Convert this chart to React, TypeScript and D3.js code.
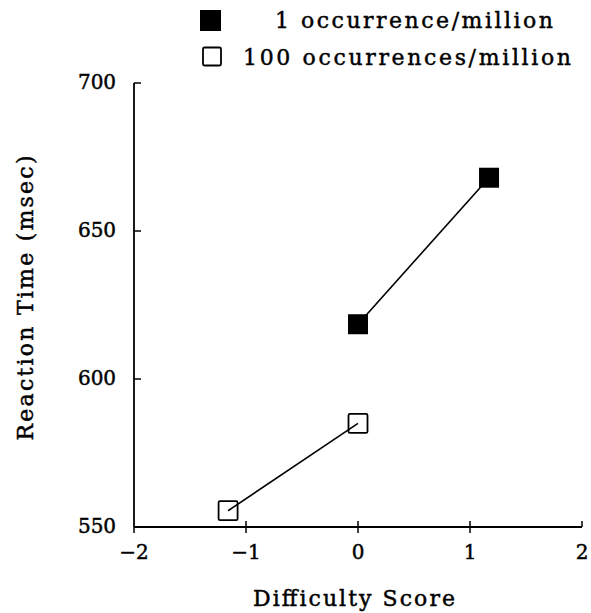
import React from "react";
import * as d3 from "d3";

const seriesNames = ["1 occurrence/million", "100 occurrences/million"];
const lowFreqX = [0, 1.17];
const lowFreqY = [618.5, 668];
const highFreqX = [-1.16, 0];
const highFreqY = [555.5, 585];
const xTicks = [-2, -1, 0, 1, 2];
const yTicks = [550, 600, 650, 700];

const W = 591;
const H = 613;
const FONT = "'DejaVu Serif', serif";

export default function App() {
  const x = d3.scaleLinear().domain([-2, 2]).range([134, 582]);
  const y = d3.scaleLinear().domain([550, 700]).range([527, 83]);
  const line = d3
    .line<[number, number]>()
    .x((d) => x(d[0]))
    .y((d) => y(d[1]));
  const low: [number, number][] = lowFreqX.map((v, i) => [v, lowFreqY[i]]);
  const high: [number, number][] = highFreqX.map((v, i) => [v, highFreqY[i]]);
  const fmt = (v: number) => (v < 0 ? "\u2212" + Math.abs(v) : String(v));
  const S = 20;
  const bold = { stroke: "#000", strokeWidth: 0.45 };
  return (
    <svg
      width={W}
      height={H}
      style={{ position: "absolute", left: 0, top: 0, background: "#fff" }}
      fontFamily={FONT}
    >
      {/* legend */}
      <rect x={200} y={10} width={21} height={21} fill="#000" />
      <text x={275} y={28} fontSize={22} textLength={278} lengthAdjust="spacing" {...bold}>
        {seriesNames[0]}
      </text>
      <rect x={203} y={47.5} width={18} height={18} fill="none" stroke="#000" strokeWidth={1.8} rx={1.5} />
      <text x={243} y={65} fontSize={22} textLength={328} lengthAdjust="spacing" {...bold}>
        {seriesNames[1]}
      </text>

      {/* axes */}
      <line x1={x(-2)} x2={x(2)} y1={y(550)} y2={y(550)} stroke="#000" strokeWidth={1.8} />
      <line x1={x(-2)} x2={x(-2)} y1={y(550)} y2={y(700)} stroke="#000" strokeWidth={1.8} />
      {xTicks.map((t) => (
        <g key={"x" + t}>
          <line
            x1={x(t)}
            x2={x(t)}
            y1={t === -2 ? y(550) : y(550) - 6}
            y2={t === 2 ? y(550) : y(550) + 6}
            stroke="#000"
            strokeWidth={1.5}
          />
          <text x={x(t)} y={559} fontSize={20} textAnchor="middle" {...bold}>
            {fmt(t)}
          </text>
        </g>
      ))}
      {yTicks.map((t) => (
        <g key={"y" + t}>
          <line x1={x(-2)} x2={x(-2) + 7} y1={y(t)} y2={y(t)} stroke="#000" strokeWidth={1.5} />
          <text x={116} y={y(t) + 6} fontSize={20} textAnchor="end" textLength={38} lengthAdjust="spacing" {...bold}>
            {t}
          </text>
        </g>
      ))}

      {/* axis labels */}
      <text x={354} y={606} fontSize={22} textAnchor="middle" textLength={202} lengthAdjust="spacing" {...bold}>
        Difficulty Score
      </text>
      <text
        transform={`translate(33,298) rotate(-90)`}
        fontSize={22}
        textAnchor="middle"
        textLength={285}
        lengthAdjust="spacing"
        {...bold}
      >
        Reaction Time (msec)
      </text>

      {/* series */}
      <path d={line(low) || ""} fill="none" stroke="#000" strokeWidth={1.6} />
      {low.map((d, i) => (
        <rect key={"l" + i} x={x(d[0]) - S / 2} y={y(d[1]) - S / 2} width={S} height={S} fill="#000" />
      ))}
      <path d={line(high) || ""} fill="none" stroke="#000" strokeWidth={1.6} />
      {high.map((d, i) => (
        <rect
          key={"h" + i}
          x={x(d[0]) - 9.5}
          y={y(d[1]) - 9.5}
          width={19}
          height={19}
          fill="none"
          stroke="#000"
          strokeWidth={1.8}
          rx={1.5}
        />
      ))}
    </svg>
  );
}
